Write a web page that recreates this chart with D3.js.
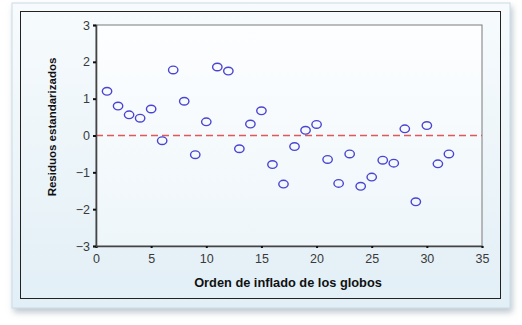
<!DOCTYPE html>
<html><head><meta charset="utf-8">
<script src="https://cdn.jsdelivr.net/npm/d3@7"></script>
<style>body{margin:0;background:#fff;} svg{display:block;}</style>
</head><body>
<svg id="c" width="522" height="325"></svg>
<script>
const order = [1,2,3,4,5,6,7,8,9,10,11,12,13,14,15,16,17,18,19,20,21,22,23,24,25,26,27,28,29,30,31,32];
const residuals = [1.20,0.80,0.56,0.47,0.72,-0.14,1.78,0.93,-0.52,0.37,1.86,1.75,-0.36,0.31,0.67,-0.79,-1.32,-0.30,0.14,0.30,-0.65,-1.30,-0.50,-1.38,-1.13,-0.67,-0.75,0.18,-1.80,0.27,-0.77,-0.50];
const xTicks = [0,5,10,15,20,25,30,35];
const yTicks = [-3,-2,-1,0,1,2,3];
const xTitle = "Orden de inflado de los globos";
const yTitle = "Residuos estandarizados";

const svg = d3.select("#c");
const defs = svg.append("defs");
const g1 = defs.append("linearGradient").attr("id","bg").attr("x1",0).attr("y1",0).attr("x2",0).attr("y2",1);
g1.append("stop").attr("offset","0%").attr("stop-color","#f7fbfd");
g1.append("stop").attr("offset","100%").attr("stop-color","#e2eff6");
const g2 = defs.append("linearGradient").attr("id","pbg").attr("x1",0).attr("y1",0).attr("x2",0).attr("y2",1);
g2.append("stop").attr("offset","0%").attr("stop-color","#fdfeff");
g2.append("stop").attr("offset","100%").attr("stop-color","#eef6fa");
const f = defs.append("filter").attr("id","sh").attr("x","-5%").attr("y","-5%").attr("width","110%").attr("height","115%");
f.append("feDropShadow").attr("dx",2).attr("dy",4).attr("stdDeviation",3).attr("flood-color","#8a9aa8").attr("flood-opacity",0.55);

const FONT = "'Liberation Sans',Arial,sans-serif";

// card
svg.append("rect").attr("x",12).attr("y",3).attr("width",498).attr("height",305)
  .attr("fill","url(#bg)").attr("stroke","#c9dbe6").attr("filter","url(#sh)");
svg.append("rect").attr("x",20.5).attr("y",11.5).attr("width",480).attr("height",287)
  .attr("fill","none").attr("stroke","#222").attr("stroke-width",1);

const m = {l:96, r:482, t:25, b:246};
const x = d3.scaleLinear().domain([0,35]).range([m.l,m.r]);
const y = d3.scaleLinear().domain([-3,3]).range([m.b,m.t]);

svg.append("rect").attr("x",m.l).attr("y",m.t).attr("width",m.r-m.l).attr("height",m.b-m.t)
  .attr("fill","url(#pbg)").attr("stroke","#7a7a7a").attr("stroke-width",1);

// reference line
svg.append("line").attr("x1",x(0)).attr("x2",x(35)).attr("y1",y(0)).attr("y2",y(0))
  .attr("stroke","#e05858").attr("stroke-width",1.5).attr("stroke-dasharray","7,4");

// axes
const xa = svg.append("g").attr("transform",`translate(0,${m.b})`)
  .call(d3.axisBottom(x).tickValues(xTicks).tickSize(2).tickPadding(6));
const ya = svg.append("g").attr("transform",`translate(${m.l},0)`)
  .call(d3.axisLeft(y).tickValues(yTicks).tickSize(3).tickPadding(3).tickFormat(d3.format("d")));
[xa,ya].forEach(a=>{
  a.select(".domain").attr("stroke","#444").attr("stroke-width",1.6);
  a.selectAll(".tick line").attr("stroke","#111").attr("stroke-width",2);
  a.selectAll("text").attr("fill","#3a3a3a").style("font-family",FONT).style("font-size","12.5px");
});

// points
svg.append("g").selectAll("ellipse").data(order).join("ellipse")
  .attr("cx",(d,i)=>x(d)).attr("cy",(d,i)=>y(residuals[i]))
  .attr("rx",4.7).attr("ry",3.8)
  .attr("fill","none").attr("stroke","#4a44d2").attr("stroke-width",1.4);

// titles
svg.append("text").attr("x",(m.l+m.r)/2 - 1).attr("y",287).attr("text-anchor","middle")
  .style("font-family",FONT).style("font-size","12.8px").style("font-weight","bold")
  .attr("fill","#111").text(xTitle);
svg.append("text").attr("transform",`translate(56,127) rotate(-90)`).attr("text-anchor","middle")
  .style("font-family",FONT).style("font-size","11.5px").style("font-weight","bold")
  .attr("fill","#111").text(yTitle);
</script>
</body></html>
